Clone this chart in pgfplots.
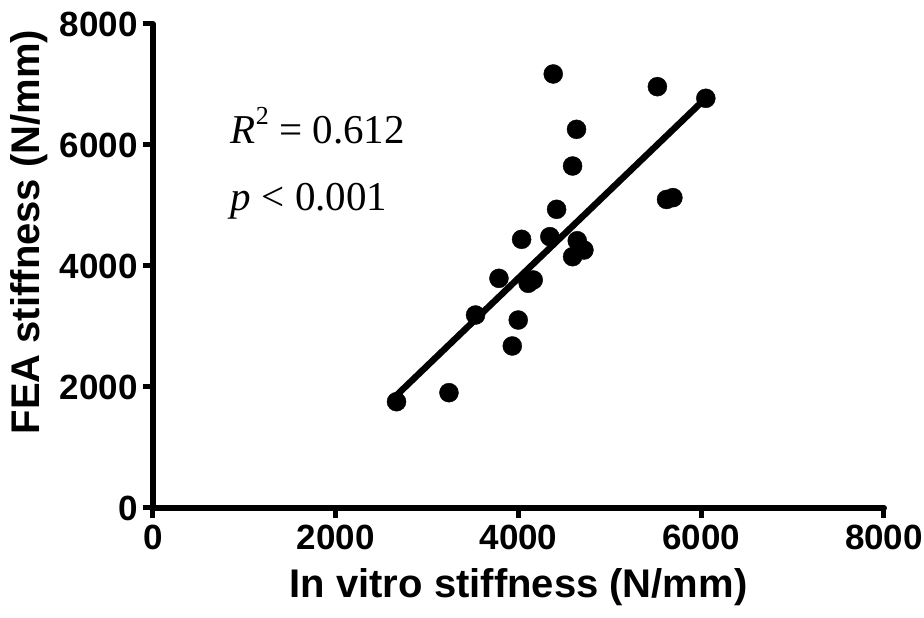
\documentclass[border=0pt]{standalone}
\usepackage{fontspec}
\setmainfont{Liberation Sans}
\newfontfamily\tnr{Liberation Serif}
\usepackage{pgfplots}
\pgfplotsset{compat=1.18}
\begin{document}
\begin{tikzpicture}
\begin{axis}[
  name=ax,
  every axis/.append style={line width=6pt},
  scale only axis,
  width=731pt, height=484pt,
  xmin=0, xmax=8000, ymin=0, ymax=8000,
  axis lines=left,
  axis line style={line width=6pt, -, line cap=round},
  tick style={line width=5pt, black},
  major tick length=10pt,
  tick align=outside,
  xtick={0,2000,4000,6000,8000},
  ytick={0,2000,4000,6000,8000},
  /pgf/number format/assume math mode=true,
  /pgf/number format/1000 sep={},
  tick label style={font=\fontsize{35}{35}\selectfont\bfseries},
  xticklabel style={yshift=-1pt},
  yticklabel style={xshift=1pt},
  xlabel={In vitro stiffness (N/mm)},
  ylabel={FEA stiffness (N/mm)},
  label style={font=\fontsize{40}{40}\selectfont\bfseries},
  xlabel style={at={(axis description cs:0.5,0)}, anchor=north, yshift=-54pt},
  ylabel style={at={(axis description cs:0,0.57)}, anchor=south, yshift=99pt},
  clip=false,
]
\addplot[only marks, mark=*, mark size=9.5pt, black, mark options={line width=0.4pt}] coordinates {
(4380,7174) (5520,6964) (6050,6772) (4635,6259) (4592,5653) (4417,4937)
(5620,5100) (5690,5130) (4034,4441) (4343,4485) (4643,4418) (4716,4264)
(4592,4154) (3786,3796) (4106,3714) (4161,3769) (3530,3190) (3997,3107)
(3932,2678) (3239,1906) (2665,1757)
};
\addplot[black, line width=6.5pt, line cap=round] coordinates {(2670,1870) (6060,6790)};
\node[anchor=base west, inner sep=0pt, font=\tnr\fontsize{41}{41}\selectfont] at (axis cs:820,6030) {\textit{R}\raisebox{0.45em}{\fontsize{26}{26}\selectfont 2} = 0.612};
\node[anchor=base west, inner sep=0pt, font=\tnr\fontsize{41}{41}\selectfont] at (axis cs:820,4925) {\textit{p} < 0.001};
\end{axis}
\pgfresetboundingbox
\path (ax.south west) ++(-153pt,-110pt) rectangle ++(924pt,618pt);
\end{tikzpicture}
\end{document}
